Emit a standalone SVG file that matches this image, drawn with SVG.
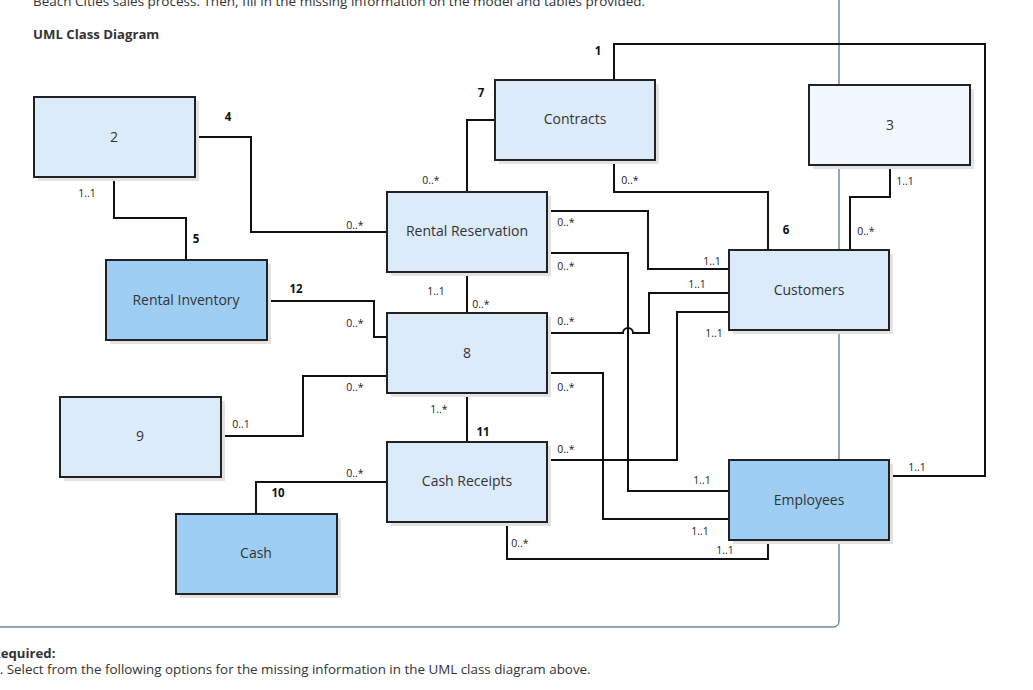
<svg xmlns="http://www.w3.org/2000/svg" width="1033" height="690" viewBox="0 0 1033 690">
<style>
.t{font-family:"Open Sans","Liberation Sans",sans-serif;fill:#333}
.n{font-size:14px;text-anchor:middle}
.m{font-size:10.5px;text-anchor:middle;fill:#222}
.b{font-size:11.5px;font-weight:bold;text-anchor:middle;fill:#111}
.box{stroke:#222;stroke-width:2}
.l1{fill:#dbebf9}
.l2{fill:#9ecef3}
.l3{fill:#f3f8fe}
.sh{fill:#e2e2e2}
.c{fill:none;stroke:#111;stroke-width:2}
</style>
<rect width="1033" height="690" fill="#fff"/>
<text class="t" x="33" y="6" font-size="13.5">Beach Cities sales process. Then, fill in the missing information on the model and tables provided.</text>
<text class="t" x="33" y="39" font-size="13.2" font-weight="bold" fill="#222">UML Class Diagram</text>
<path d="M839,0 V621 Q839,627 833,627 H-2" fill="none" stroke="#2a4d7a" stroke-width="1"/>
<text class="t" x="-8" y="658" font-size="13.2" font-weight="bold" fill="#222">Required:</text>
<text class="t" x="-8" y="674" font-size="13.4" fill="#222">1. Select from the following options for the missing information in the UML class diagram above.</text>
<g id="connectors">
<path class="c" d="M195,137 H251 V232 H387"/>
<path class="c" d="M114,177 V218 H186 V260"/>
<path class="c" d="M614,80 V44 H985 V476 H889"/>
<path class="c" d="M495,120 H467 V192"/>
<path class="c" d="M614,160 V192 H768 V250"/>
<path class="c" d="M890,165 V197 H850 V250"/>
<path class="c" d="M547,211 H648 V269 H729"/>
<path class="c" d="M547,253 H628 V491 H729"/>
<path class="c" d="M547,333 H623 A5,5 0 0 1 633,333 H649 V293 H729"/>
<path class="c" d="M729,312 H677 V460 H547"/>
<path class="c" d="M547,373 H603 V519 H729"/>
<path class="c" d="M507,522 V559 H768 V540"/>
<path class="c" d="M467,272 V313"/>
<path class="c" d="M267,301 H374 V337 H387"/>
<path class="c" d="M387,376 H303 V436 H221"/>
<path class="c" d="M467,393 V442"/>
<path class="c" d="M256,514 V482 H387"/>
</g>
<g id="node-2"><rect class="sh" x="38" y="101" width="161" height="80"/><rect class="box l1" x="34" y="97" width="161" height="80"/><text class="t n" x="114" y="142">2</text></g>
<g id="node-contracts"><rect class="sh" x="499" y="84" width="160" height="80"/><rect class="box l1" x="495" y="80" width="160" height="80"/><text class="t n" x="575" y="124">Contracts</text></g>
<g id="node-3"><rect class="sh" x="813" y="89" width="161" height="80"/><rect class="box l3" x="809" y="85" width="161" height="80"/><text class="t n" x="890" y="130">3</text></g>
<g id="node-rental-reservation"><rect class="sh" x="391" y="196" width="160" height="80"/><rect class="box l1" x="387" y="192" width="160" height="80"/><text class="t n" x="467" y="236">Rental Reservation</text></g>
<g id="node-customers"><rect class="sh" x="733" y="254" width="160" height="80"/><rect class="box l1" x="729" y="250" width="160" height="80"/><text class="t n" x="809" y="295">Customers</text></g>
<g id="node-rental-inventory"><rect class="sh" x="110" y="264" width="161" height="80"/><rect class="box l2" x="106" y="260" width="161" height="80"/><text class="t n" x="186" y="305">Rental Inventory</text></g>
<g id="node-8"><rect class="sh" x="391" y="317" width="160" height="80"/><rect class="box l1" x="387" y="313" width="160" height="80"/><text class="t n" x="467" y="358">8</text></g>
<g id="node-9"><rect class="sh" x="64" y="401" width="161" height="80"/><rect class="box l1" x="60" y="397" width="161" height="80"/><text class="t n" x="140" y="441">9</text></g>
<g id="node-cash-receipts"><rect class="sh" x="391" y="446" width="160" height="80"/><rect class="box l1" x="387" y="442" width="160" height="80"/><text class="t n" x="467" y="486">Cash Receipts</text></g>
<g id="node-employees"><rect class="sh" x="733" y="464" width="160" height="80"/><rect class="box l2" x="729" y="460" width="160" height="80"/><text class="t n" x="809" y="505">Employees</text></g>
<g id="node-cash"><rect class="sh" x="180" y="518" width="161" height="80"/><rect class="box l2" x="176" y="514" width="161" height="80"/><text class="t n" x="256" y="558">Cash</text></g>
<g id="labels">
<text class="t b" x="228" y="121">4</text>
<text class="t b" x="196" y="243">5</text>
<text class="t b" x="598" y="55">1</text>
<text class="t b" x="481" y="97">7</text>
<text class="t b" x="786" y="234">6</text>
<text class="t b" x="296" y="293">12</text>
<text class="t b" x="483" y="436">11</text>
<text class="t b" x="278" y="497">10</text>
<text class="t m" x="87" y="197">1..1</text>
<text class="t m" x="355" y="229">0..*</text>
<text class="t m" x="431" y="184">0..*</text>
<text class="t m" x="630" y="184">0..*</text>
<text class="t m" x="905" y="185">1..1</text>
<text class="t m" x="866" y="235">0..*</text>
<text class="t m" x="566" y="226">0..*</text>
<text class="t m" x="566" y="270">0..*</text>
<text class="t m" x="712" y="265">1..1</text>
<text class="t m" x="697" y="288">1..1</text>
<text class="t m" x="714" y="337">1..1</text>
<text class="t m" x="436" y="295">1..1</text>
<text class="t m" x="481" y="308">0..*</text>
<text class="t m" x="355" y="327">0..*</text>
<text class="t m" x="566" y="325">0..*</text>
<text class="t m" x="355" y="391">0..*</text>
<text class="t m" x="566" y="391">0..*</text>
<text class="t m" x="241" y="428">0..1</text>
<text class="t m" x="439" y="413">1..*</text>
<text class="t m" x="566" y="453">0..*</text>
<text class="t m" x="355" y="477">0..*</text>
<text class="t m" x="702" y="484">1..1</text>
<text class="t m" x="917" y="471">1..1</text>
<text class="t m" x="700" y="535">1..1</text>
<text class="t m" x="520" y="547">0..*</text>
<text class="t m" x="725" y="554">1..1</text>
</g>
</svg>
